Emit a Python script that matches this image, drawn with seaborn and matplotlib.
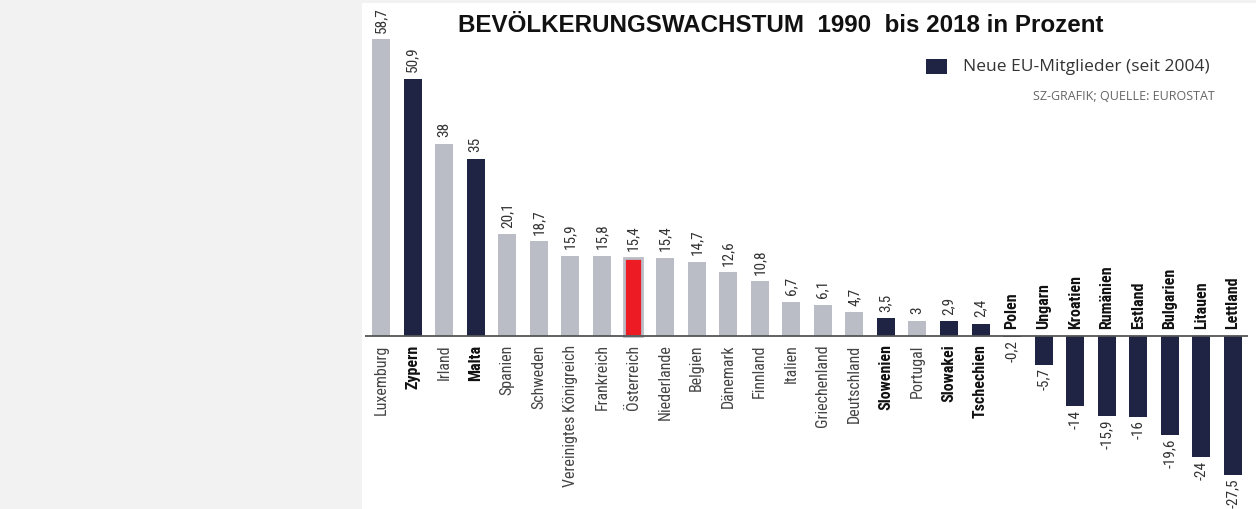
import matplotlib
matplotlib.use('Agg')
import matplotlib.pyplot as plt
from matplotlib import font_manager
from matplotlib.patches import Rectangle
import pandas as pd
import seaborn as sns

laender = ['Luxemburg', 'Zypern', 'Irland', 'Malta', 'Spanien', 'Schweden',
           'Vereinigtes Königreich', 'Frankreich', 'Österreich', 'Niederlande',
           'Belgien', 'Dänemark', 'Finnland', 'Italien', 'Griechenland',
           'Deutschland', 'Slowenien', 'Portugal', 'Slowakei', 'Tschechien',
           'Polen', 'Ungarn', 'Kroatien', 'Rumänien', 'Estland', 'Bulgarien',
           'Litauen', 'Lettland']
wachstum = [58.7, 50.9, 38, 35, 20.1, 18.7, 15.9, 15.8, 15.4, 15.4, 14.7, 12.6,
            10.8, 6.7, 6.1, 4.7, 3.5, 3, 2.9, 2.4, -0.2, -5.7, -14, -15.9, -16,
            -19.6, -24, -27.5]
neue_mitglieder = ['Zypern', 'Malta', 'Slowenien', 'Slowakei', 'Tschechien',
                   'Polen', 'Ungarn', 'Kroatien', 'Rumänien', 'Estland',
                   'Bulgarien', 'Litauen', 'Lettland']

GRAU = '#babdc6'
NAVY = '#1f2444'
ROT = '#ed1c24'

# condensed font if one is installed
installed = {f.name for f in font_manager.fontManager.ttflist}
cond = 'DejaVu Sans'
for name in ['Roboto Condensed', 'Liberation Sans Narrow', 'Open Sans Condensed',
             'DejaVu Sans Condensed']:
    if name in installed:
        cond = name
        break
print('using', cond)

df = pd.DataFrame({'land': laender, 'wert': wachstum})
farben = {}
for land in laender:
    if land == 'Österreich':
        farben[land] = ROT
    elif land in neue_mitglieder:
        farben[land] = NAVY
    else:
        farben[land] = GRAU

W, H = 1256, 509
fig = plt.figure(figsize=(W / 100, H / 100), dpi=100, facecolor='#f2f2f2')
fig.patches.append(Rectangle((362 / W, 0), (W - 362) / W, (H - 3) / H,
                             transform=fig.transFigure, facecolor='white',
                             edgecolor='none', zorder=-5))

ax = fig.add_axes([365 / W, 0, 883 / W, 1])
ax.set_zorder(2)
ax.patch.set_alpha(0)
sns.barplot(data=df, x='land', y='wert', hue='land', palette=farben,
            width=0.57, dodge=False, legend=False, ax=ax, saturation=1)
ax.set_xlim(-0.507, 27.475)
ax.set_ylim(-34.3, 66.5)
ax.axis('off')
ax.axhline(0, color='#555555', lw=1.3, zorder=3)

for bar, land in zip(ax.patches, laender):
    if land == 'Österreich':
        bar.set_edgecolor(GRAU)
        bar.set_linewidth(2)

for i, (land, wert) in enumerate(zip(laender, wachstum)):
    fett = land in neue_mitglieder
    txt = f'{wert:g}'.replace('.', ',')
    lab_kw = dict(rotation=90, ha='center', fontsize=11.5, family=cond,
                  fontweight='bold' if fett else 'normal',
                  color='#111111' if fett else '#444444')
    val_kw = dict(rotation=90, ha='center', fontsize=11, family=cond,
                  color='#333333')
    if wert >= 0:
        ax.text(i, -1.7, land, va='top', **lab_kw)
        ax.text(i, wert + 1.3, txt, va='bottom', **val_kw)
    else:
        ax.text(i, 1.4, land, va='bottom', **lab_kw)
        ax.text(i, min(wert, 0) - 0.7, txt, va='top', **val_kw)

fig.text(781 / W, 1 - 25 / H, 'BEVÖLKERUNGSWACHSTUM  1990  bis 2018 in Prozent',
         ha='center', va='center', fontsize=17.4, fontweight='bold',
         family='Liberation Sans', color='#111111')
fig.patches.append(Rectangle((926 / W, 1 - 74 / H), 21 / W, 15 / H,
                             transform=fig.transFigure, facecolor=NAVY,
                             edgecolor='none'))
fig.text(963 / W, 1 - 67 / H, 'Neue EU-Mitglieder (seit 2004)', ha='left',
         va='center', fontsize=12.5, family='Open Sans', color='#333333')
fig.text(1215 / W, 1 - 96 / H, 'SZ-GRAFIK; QUELLE: EUROSTAT', ha='right',
         va='center', fontsize=9, family='Open Sans', color='#666666')

fig.savefig('out.png', dpi=100, facecolor=fig.get_facecolor())
